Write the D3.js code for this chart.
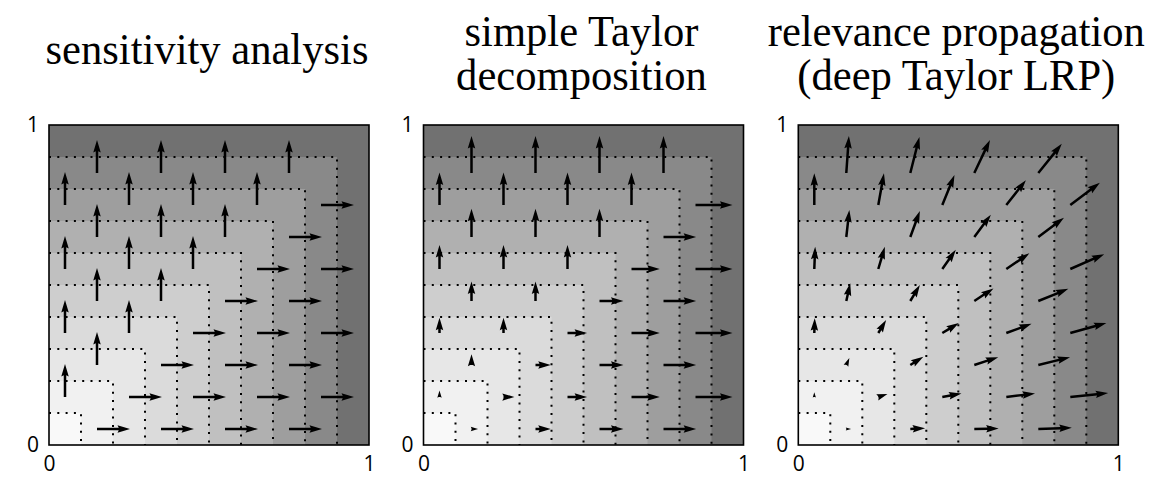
<!DOCTYPE html>
<html>
<head>
<meta charset="utf-8">
<script src="https://cdn.jsdelivr.net/npm/d3@7"></script>
<style>
    body { margin: 0; background: #fff; }
</style>
</head>
<body>
<script>
// ---- data -------------------------------------------------------------
var titles = [
    ["sensitivity analysis"],
    ["simple Taylor", "decomposition"],
    ["relevance propagation", "(deep Taylor LRP)"]
];

// contour levels of f(x, y) and the grey of each filled band
var levels = [0.1, 0.2, 0.3, 0.4, 0.5, 0.6, 0.7, 0.8, 0.9];
var bandGrays = ["#f9f9f9", "#f1f1f1", "#e7e7e7", "#dbdbdb", "#cecece",
                 "#c0c0c0", "#b0b0b0", "#9e9e9e", "#898989", "#717171"];

// arrow tails, row by row (checkerboard)
var rowY = [0.05, 0.15, 0.25, 0.35, 0.45, 0.55, 0.65, 0.75, 0.85];
var rowX = [
    [0.15, 0.35, 0.55, 0.75],
    [0.05, 0.25, 0.45, 0.65, 0.85],
    [0.15, 0.35, 0.55, 0.75],
    [0.05, 0.25, 0.45, 0.65, 0.85],
    [0.15, 0.35, 0.55, 0.75],
    [0.05, 0.25, 0.45, 0.65, 0.85],
    [0.15, 0.35, 0.55, 0.75],
    [0.05, 0.25, 0.45, 0.65, 0.85],
    [0.15, 0.35, 0.55, 0.75]
];

// sensitivity analysis
var sensU = [
    [1, 1, 1, 1], [0, 1, 1, 1, 1], [0, 1, 1, 1], [0, 0, 1, 1, 1],
    [0, 0, 1, 1], [0, 0, 0, 1, 1], [0, 0, 0, 1], [0, 0, 0, 0, 1],
    [0, 0, 0, 0]
];
var sensV = [
    [0, 0, 0, 0], [1, 0, 0, 0, 0], [1, 0, 0, 0], [1, 1, 0, 0, 0],
    [1, 1, 0, 0], [1, 1, 1, 0, 0], [1, 1, 1, 0], [1, 1, 1, 1, 0],
    [1, 1, 1, 1]
];

// simple Taylor decomposition
var taylorU = [
    [0.15, 0.35, 0.55, 0.75], [0, 0.25, 0.45, 0.65, 0.85],
    [0, 0.35, 0.55, 0.75], [0, 0, 0.45, 0.65, 0.85],
    [0, 0, 0.55, 0.75], [0, 0, 0, 0.65, 0.85],
    [0, 0, 0, 0.75], [0, 0, 0, 0, 0.85],
    [0, 0, 0, 0]
];
var taylorV = [
    [0, 0, 0, 0], [0.15, 0, 0, 0, 0],
    [0.25, 0, 0, 0], [0.35, 0.35, 0, 0, 0],
    [0.45, 0.45, 0, 0], [0.55, 0.55, 0.55, 0, 0],
    [0.65, 0.65, 0.65, 0], [0.75, 0.75, 0.75, 0.75, 0],
    [0.85, 0.85, 0.85, 0.85]
];

// relevance propagation (deep Taylor LRP)
var lrpU = [
    [0.11, 0.34, 0.56, 0.77],
    [0.00, 0.21, 0.44, 0.66, 0.87],
    [0.07, 0.30, 0.55, 0.73],
    [0.01, 0.18, 0.38, 0.58, 0.83],
    [0.09, 0.22, 0.44, 0.69],
    [0.02, 0.15, 0.31, 0.53, 0.78],
    [0.07, 0.22, 0.38, 0.59],
    [0.00, 0.13, 0.28, 0.45, 0.68],
    [0.06, 0.21, 0.36, 0.54]
];
var lrpV = [
    [0.00, 0.02, 0.01, 0.03],
    [0.11, 0.07, 0.08, 0.08, 0.09],
    [0.16, 0.19, 0.18, 0.18],
    [0.34, 0.30, 0.23, 0.21, 0.23],
    [0.41, 0.37, 0.29, 0.28],
    [0.51, 0.51, 0.44, 0.36, 0.34],
    [0.62, 0.60, 0.51, 0.44],
    [0.73, 0.73, 0.69, 0.57, 0.51],
    [0.85, 0.83, 0.76, 0.67]
];

var tickValues = [0, 1];

// ---- layout ------------------------------------------------------------
var width = 1154, height = 494;
var size = 320;            // side of each square panel
var top0 = 125;
var panels = [
    {left: 49,    u: sensU,   v: sensV,   pxPerUnit: 33},
    {left: 423.5, u: taylorU, v: taylorV, pxPerUnit: 43.5},
    {left: 798.3, u: lrpU,    v: lrpV,    pxPerUnit: 43.5}
];

var svg = d3.select("body").append("svg")
    .attr("width", width)
    .attr("height", height);

var xScale = d3.scaleLinear().domain([0, 1]).range([0, size]);
var yScale = d3.scaleLinear().domain([0, 1]).range([size, 0]);

// turn each row of tails + components into flat points
function arrows(u, v) {
    var out = [];
    rowY.forEach(function(y, j) {
        rowX[j].forEach(function(x, i) {
            out.push({x: x, y: y, u: u[j][i], v: v[j][i]});
        });
    });
    return out;
}

// matplotlib-like quiver polygon, tail at origin pointing along +x
var shaftW = 2.5;
function arrowPath(L) {
    var w = shaftW, hl = 5 * w, hal = 4.5 * w, hw = 1.5 * w;
    var pts;
    if (L >= hal) {
        pts = [[0, -w / 2], [L - hal, -w / 2], [L - hl, -hw], [L, 0],
               [L - hl, hw], [L - hal, w / 2], [0, w / 2]];
    } else {
        var s = L / hal;
        pts = [[0, -w / 2], [-(hl - hal), -hw], [hal, 0],
               [-(hl - hal), hw], [0, w / 2]].map(function(p) {
            return [p[0] * s, p[1] * s];
        });
    }
    return "M" + pts.map(function(p) { return p.join(","); }).join("L") + "Z";
}

panels.forEach(function(p, k) {
    var g = svg.append("g")
        .attr("transform", "translate(" + p.left + "," + top0 + ")");

    // filled bands: squares from the outermost level inwards
    var bounds = [1].concat(levels.slice().reverse());
    g.selectAll("rect.band")
        .data(bounds)
        .enter()
        .append("rect")
        .attr("class", "band")
        .attr("x", 0)
        .attr("y", function(b) { return yScale(b); })
        .attr("width", function(b) { return xScale(b); })
        .attr("height", function(b) { return size - yScale(b); })
        .attr("fill", function(b, i) { return bandGrays[9 - i]; });

    // dotted contour lines
    g.selectAll("path.level")
        .data(levels)
        .enter()
        .append("path")
        .attr("class", "level")
        .attr("d", function(l) {
            return "M" + xScale(0) + "," + yScale(l) +
                   "L" + xScale(l) + "," + yScale(l) +
                   "L" + xScale(l) + "," + yScale(0);
        })
        .attr("fill", "none")
        .attr("stroke", "#000")
        .attr("stroke-width", 2)
        .attr("stroke-dasharray", "2,6.3");

    // arrows
    g.selectAll("path.arrow")
        .data(arrows(p.u, p.v).filter(function(d) {
            return d.u !== 0 || d.v !== 0;
        }))
        .enter()
        .append("path")
        .attr("class", "arrow")
        .attr("d", function(d) {
            return arrowPath(Math.hypot(d.u, d.v) * p.pxPerUnit);
        })
        .attr("transform", function(d) {
            var ang = Math.atan2(-d.v, d.u) * 180 / Math.PI;
            return "translate(" + xScale(d.x) + "," + yScale(d.y) +
                   ") rotate(" + ang + ")";
        })
        .attr("fill", "#000");

    // frame
    g.append("rect")
        .attr("width", size)
        .attr("height", size)
        .attr("fill", "none")
        .attr("stroke", "#000")
        .attr("stroke-width", 1.6);

    // axes with just 0 and 1
    var yAxis = d3.axisLeft(yScale).tickValues(tickValues)
        .tickSize(0).tickPadding(10).tickFormat(d3.format("d"));
    var xAxis = d3.axisBottom(xScale).tickValues(tickValues)
        .tickSize(0).tickPadding(11).tickFormat(d3.format("d"));

    g.append("g").attr("class", "yax").call(yAxis);
    g.append("g").attr("class", "xax")
        .attr("transform", "translate(0," + size + ")").call(xAxis);
    g.selectAll(".domain").remove();
    g.selectAll(".tick text")
        .style("font-family", "'Open Sans', sans-serif")
        .style("font-size", "21px")
        .style("fill", "#000");
});

// titles: a tall serif squeezed sideways, like the reference lettering
var titleFont = 44;
var probe = svg.append("text")
    .attr("font-family", "Liberation Serif, serif")
    .attr("font-size", titleFont)
    .text(titles[0][0]);
var squeeze = 323 / probe.node().getComputedTextLength();
probe.remove();

panels.forEach(function(p, k) {
    var lines = titles[k];
    var ys = lines.length === 1 ? [64] : [46, 90];
    lines.forEach(function(line, i) {
        svg.append("text")
            .attr("transform", "translate(" + (p.left + size / 2 - 2) + "," +
                  ys[i] + ") scale(" + squeeze + ",1)")
            .attr("text-anchor", "middle")
            .attr("font-family", "Liberation Serif, serif")
            .attr("font-size", titleFont)
            .attr("fill", "#000")
            .text(line);
    });
});
</script>
</body>
</html>
